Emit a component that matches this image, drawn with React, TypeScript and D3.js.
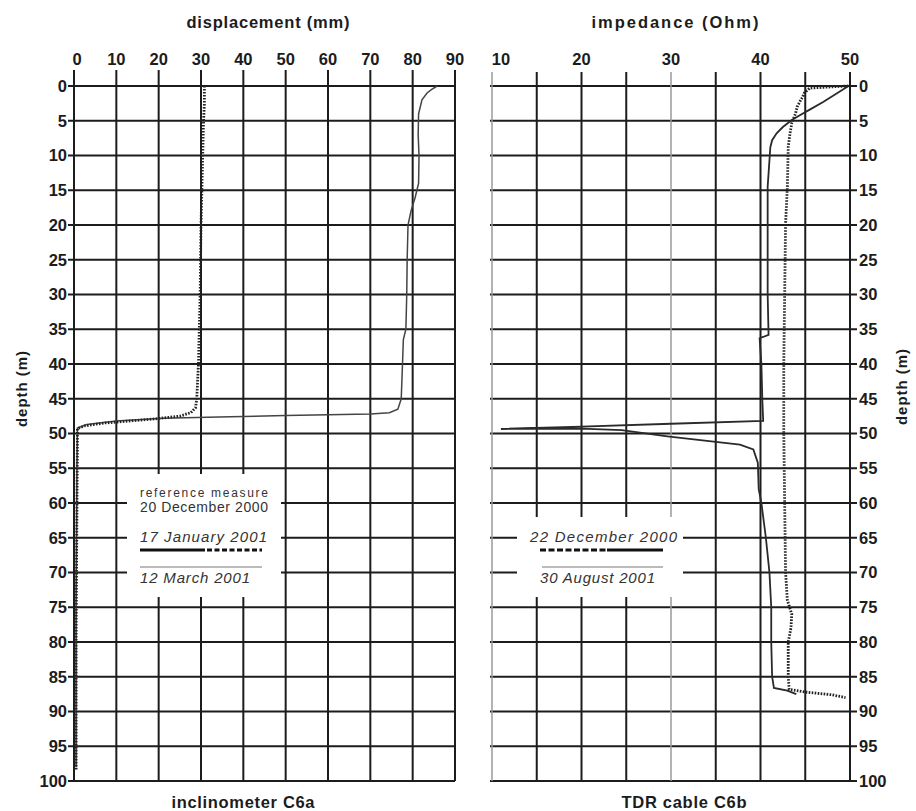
import React from "react";
import * as d3 from "d3";

// Axis ticks
const depthTicks = [0, 5, 10, 15, 20, 25, 30, 35, 40, 45, 50, 55, 60, 65, 70, 75, 80, 85, 90, 95, 100];
const displacementTicks = [0, 10, 20, 30, 40, 50, 60, 70, 80, 90];
const impedanceGrid = [10, 15, 20, 25, 30, 35, 40, 45, 50];
const impedanceLabels = [10, 20, 30, 40, 50];
const impedanceLightLines = [10, 30];

// Inclinometer C6a: [depth (m), displacement (mm)]
const incJan2001: [number, number][] = [
  [0, 30.8], [1, 30.8], [2.5, 30.8], [5, 30.6], [10, 30.4], [15, 30.2], [20, 30.0],
  [25, 29.9], [30, 29.8], [35, 29.6], [40, 29.4], [45, 29.0], [46.3, 28.7], [47.0, 27.6],
  [47.5, 25], [47.9, 19], [48.2, 13], [48.5, 7], [48.9, 2.5], [49.3, 0.8], [52, 0.8],
  [60, 0.7], [70, 0.6], [80, 0.5], [90, 0.5], [98.5, 0.5],
];
const incMar2001: [number, number][] = [
  [0, 85.8], [0.5, 84.5], [1, 83.4], [2, 82.2], [4, 81.4], [7, 81.3], [10, 81.5],
  [14, 81.4], [16, 80.6], [18, 79.6], [20, 78.9], [25, 78.7], [30, 78.6], [35, 78.4],
  [36.5, 77.8], [40, 77.6], [45, 77.3], [46.5, 76.5], [47.0, 74.5], [47.2, 70],
  [47.4, 50], [47.6, 37], [47.8, 21], [48.2, 10], [48.7, 3], [49.2, 0.8], [55, 0.7],
  [65, 0.6], [75, 0.5], [85, 0.5], [98, 0.5],
];

// TDR cable C6b: [depth (m), impedance (Ohm)]
const tdrDec2000: [number, number][] = [
  [0, 49.8], [0.15, 47.5], [0.3, 45.5], [1, 44.9], [1.6, 44.7], [2, 44.5], [3, 44.1],
  [4, 43.9], [5.3, 43.5], [6.8, 43.3], [8.8, 43.1], [14.5, 43.0], [20, 42.8], [30, 42.7],
  [40, 42.6], [50, 42.6], [60, 42.7], [70, 42.8], [74, 43.0], [76, 43.5], [78, 43.4],
  [80, 43.1], [85, 43.1], [86.8, 43.2], [87.2, 45], [87.6, 48], [88, 49.5],
];
const tdrAug2001: [number, number][] = [
  [0.1, 49.7], [2.3, 47.0], [3.4, 45.5], [4.2, 44.4], [4.9, 43.5], [5.9, 42.5],
  [6.8, 41.8], [7.8, 41.3], [8.8, 41.1], [14.5, 40.8], [20, 40.8], [25, 40.8],
  [30, 40.8], [35.8, 40.9], [36.3, 39.9], [40, 40.1], [45, 40.2], [48.2, 40.3],
  [48.6, 30], [49.0, 20], [49.35, 11], [49.3, 20], [49.5, 24.5], [50.4, 29.6],
  [51.6, 37.7], [52.3, 39.2], [54.2, 39.7], [58, 39.8], [60, 40.1], [65, 40.6],
  [70, 41.0], [75, 41.2], [80, 41.2], [85, 41.3], [86.6, 41.5], [87, 43], [87.5, 44],
];

const FONT = "'Liberation Sans', Arial, Helvetica, sans-serif";
const INK = "#1c1c1c";
const TICK_SIZE = 16.5;

export default function App() {
  const y = d3.scaleLinear().domain([0, 100]).range([86, 781]);
  const xL = d3.scaleLinear().domain([0, 90]).range([74, 455]);
  const xR = d3.scaleLinear().domain([10, 50]).range([492, 850]);

  const lineL = d3
    .line<[number, number]>()
    .x((d) => xL(d[1]))
    .y((d) => y(d[0]));
  const lineR = d3
    .line<[number, number]>()
    .x((d) => xR(d[1]))
    .y((d) => y(d[0]));

  const [l0, l1] = xL.range();
  const [r0, r1] = xR.range();
  const [t0, t1] = y.range();

  return (
    <svg
      width={916}
      height={811}
      viewBox="0 0 916 811"
      style={{ position: "absolute", left: 0, top: 0, background: "#fff" }}
      fontFamily={FONT}
    >
      <rect x={0} y={0} width={916} height={811} fill="#fff" />

      {/* ---------- inclinometer panel ---------- */}
      <g>
        {depthTicks.map((d) => (
          <line key={"lh" + d} x1={l0 - 6} x2={l1} y1={y(d)} y2={y(d)} stroke={INK} strokeWidth={2} />
        ))}
        {displacementTicks.map((v) => (
          <line key={"lv" + v} x1={xL(v)} x2={xL(v)} y1={t0 - 16} y2={t1} stroke={INK} strokeWidth={2} />
        ))}
        {/* legend area */}
        <rect x={127} y={474} width={154} height={123} fill="#fff" />
        {depthTicks.map((d) => (
          <text
            key={"ll" + d}
            x={l0 - 7}
            y={y(d)}
            dy="0.36em"
            textAnchor="end"
            fontSize={TICK_SIZE}
            fontWeight="bold"
            fill={INK}
          >
            {d}
          </text>
        ))}
        {displacementTicks.map((v) => (
          <text key={"lt" + v} x={xL(v) + (v === 0 ? 3 : 0)} y={65} textAnchor="middle" fontSize={TICK_SIZE} fontWeight="bold" fill={INK}>
            {v}
          </text>
        ))}
        <text x={268} y={28} textAnchor="middle" fontSize={16.5} fontWeight="bold" fill={INK} textLength={163} lengthAdjust="spacing">
          displacement (mm)
        </text>
        <text x={243} y={808} textAnchor="middle" fontSize={16.5} fontWeight="bold" fill={INK} textLength={143} lengthAdjust="spacing">
          inclinometer C6a
        </text>
        <text
          transform="translate(27,389) rotate(-90)"
          textAnchor="middle"
          fontSize={15}
          fontWeight="bold"
          fill={INK}
          textLength={76}
          lengthAdjust="spacing"
        >
          depth (m)
        </text>

        {/* curves */}
        <path d={lineL(incMar2001) ?? ""} fill="none" stroke="#444" strokeWidth={1.5} />
        <path d={lineL(incJan2001) ?? ""} fill="none" stroke="#222" strokeWidth={2.8} strokeDasharray="1.6,1.4" />

        {/* legend */}
        <text x={140} y={497} fontSize={12} fill="#333" textLength={128} lengthAdjust="spacing">
          reference measure
        </text>
        <text x={140} y={512} fontSize={14} fill="#333" textLength={128} lengthAdjust="spacing">
          20 December 2000
        </text>
        <text x={140} y={542} fontSize={15} fontStyle="italic" fill="#333" textLength={127} lengthAdjust="spacing">
          17 January 2001
        </text>
        <line x1={140} x2={205} y1={550} y2={550} stroke="#111" strokeWidth={3} />
        <line x1={207} x2={262} y1={550} y2={550} stroke="#111" strokeWidth={3} strokeDasharray="5,2.5" />
        <line x1={140} x2={262} y1={567} y2={567} stroke="#777" strokeWidth={1} />
        <text x={140} y={583} fontSize={15} fontStyle="italic" fill="#333" textLength={110} lengthAdjust="spacing">
          12 March 2001
        </text>
      </g>

      {/* ---------- TDR panel ---------- */}
      <g>
        {depthTicks.map((d) => (
          <line key={"rh" + d} x1={r0 - 2} x2={r1 + 7} y1={y(d)} y2={y(d)} stroke={INK} strokeWidth={2} />
        ))}
        {impedanceGrid.map((v) => {
          const light = impedanceLightLines.includes(v);
          return (
            <line
              key={"rv" + v}
              x1={xR(v)}
              x2={xR(v)}
              y1={t0 - 14}
              y2={t1}
              stroke={light ? "#9a9a9a" : INK}
              strokeWidth={light ? 1.5 : 2}
            />
          );
        })}
        {/* legend area */}
        <rect x={517} y={517} width={166} height={80} fill="#fff" />
        {depthTicks.map((d) => (
          <text key={"rl" + d} x={r1 + 9} y={y(d)} dy="0.36em" textAnchor="start" fontSize={TICK_SIZE} fontWeight="bold" fill={INK}>
            {d}
          </text>
        ))}
        {impedanceLabels.map((v) => (
          <text key={"rt" + v} x={xR(v) + (v === 10 ? 9 : 0)} y={65} textAnchor="middle" fontSize={TICK_SIZE} fontWeight="bold" fill={INK}>
            {v}
          </text>
        ))}
        <text x={675} y={28} textAnchor="middle" fontSize={16.5} fontWeight="bold" fill={INK} textLength={167} lengthAdjust="spacing">
          impedance (Ohm)
        </text>
        <text x={684} y={808} textAnchor="middle" fontSize={16.5} fontWeight="bold" fill={INK} textLength={125} lengthAdjust="spacing">
          TDR cable C6b
        </text>
        <text
          transform="translate(907,387) rotate(-90)"
          textAnchor="middle"
          fontSize={15}
          fontWeight="bold"
          fill={INK}
          textLength={76}
          lengthAdjust="spacing"
        >
          depth (m)
        </text>

        {/* curves */}
        <path d={lineR(tdrAug2001) ?? ""} fill="none" stroke="#2a2a2a" strokeWidth={1.8} />
        <path d={lineR(tdrDec2000) ?? ""} fill="none" stroke="#222" strokeWidth={2.8} strokeDasharray="1.6,1.4" />

        {/* legend */}
        <text x={530} y={542} fontSize={15} fontStyle="italic" fill="#333" textLength={147} lengthAdjust="spacing">
          22 December 2000
        </text>
        <line x1={540} x2={607} y1={550} y2={550} stroke="#111" strokeWidth={3} strokeDasharray="6,2.5" />
        <line x1={607} x2={663} y1={550} y2={550} stroke="#111" strokeWidth={3} />
        <line x1={542} x2={663} y1={567} y2={567} stroke="#777" strokeWidth={1} />
        <text x={540} y={583} fontSize={15} fontStyle="italic" fill="#333" textLength={115} lengthAdjust="spacing">
          30 August 2001
        </text>
      </g>
    </svg>
  );
}
